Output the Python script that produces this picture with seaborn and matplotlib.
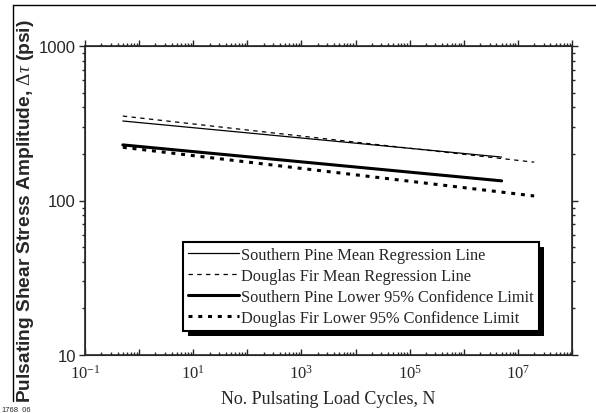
"""
Fatigue regression lines - shear stress amplitude vs load cycles (log-log)
"""

import numpy as np
import pandas as pd
import matplotlib
matplotlib.use('Agg')
import matplotlib.pyplot as plt
import matplotlib.ticker as mticker
from matplotlib.patches import Rectangle
from matplotlib.transforms import IdentityTransform
from matplotlib.lines import Line2D
import seaborn as sns

# Data (end points of straight log-log lines)
cycles_sp = [0.5, 5e6]
cycles_df = [0.5, 2e7]
sp_mean = [327, 191]
df_mean = [352, 177]
sp_lower = [229, 134]
df_lower = [221, 107]

series_labels = ['Southern Pine Mean Regression Line',
                 'Douglas Fir Mean Regression Line',
                 'Southern Pine Lower 95% Confidence Limit',
                 'Douglas Fir Lower 95% Confidence Limit']

x_ticks = [10.0 ** k for k in range(-1, 9)]
x_tick_labels = ['$10^{-1}$', '', '$10^{1}$', '', '$10^{3}$', '', '$10^{5}$', '', '$10^{7}$', '']
y_ticks = [10, 100, 1000]
y_tick_labels = ['10', '100', '1000']

# Style
sns.set_style('ticks')
plt.rcParams['font.family'] = ['Liberation Serif', 'DejaVu Serif']
plt.rcParams['mathtext.fontset'] = 'custom'
plt.rcParams['mathtext.rm'] = 'Liberation Serif'
plt.rcParams['mathtext.it'] = 'Liberation Serif:italic'
plt.rcParams['mathtext.bf'] = 'Liberation Serif:bold'
sans = ['Liberation Sans', 'DejaVu Sans']

fig = plt.figure(figsize=(5.96, 4.14), dpi=100)
ax = fig.add_axes([85 / 596, 1 - 356 / 414, 487 / 596, 309 / 414])

# Lines
sns.lineplot(x=cycles_sp, y=sp_mean, ax=ax, color='black', lw=0.9,
             label=series_labels[0])
sns.lineplot(x=cycles_df, y=df_mean, ax=ax, color='black', lw=0.9,
             linestyle=(0, (3.5, 3.5)), label=series_labels[1])
sns.lineplot(x=cycles_sp, y=sp_lower, ax=ax, color='black', lw=2.2,
             label=series_labels[2])
sns.lineplot(x=cycles_df, y=df_lower, ax=ax, color='black', lw=2.2,
             linestyle=(0, (1.3, 1.9)), label=series_labels[3])

ax.set_xscale('log')
ax.set_yscale('log')
ax.set_xlim(0.1, 1e8)
ax.set_ylim(10, 1000)

ax.set_xticks(x_ticks, labels=x_tick_labels, fontsize=12)
ax.xaxis.set_minor_locator(mticker.LogLocator(base=10, subs=np.arange(2, 10), numticks=100))
ax.xaxis.set_minor_formatter(mticker.NullFormatter())
ax.set_yticks(y_ticks, labels=y_tick_labels, fontsize=12, fontfamily=sans)
ax.yaxis.set_minor_locator(mticker.LogLocator(base=10, subs=np.arange(2, 10), numticks=100))
ax.yaxis.set_minor_formatter(mticker.NullFormatter())

for s in ax.spines.values():
    s.set_linewidth(1.2)
    s.set_visible(True)

ax.tick_params(axis='y', which='both', direction='out', left=True, right=True,
               width=1, pad=2)
ax.tick_params(axis='x', which='both', direction='in', bottom=True, top=False,
               width=1, pad=6)
ax.tick_params(which='major', length=4.5)
ax.tick_params(which='minor', length=2.5)

# top axis with outward ticks
ax2 = ax.twiny()
ax2.set_xscale('log')
ax2.set_xlim(ax.get_xlim())
ax2.set_xticks(x_ticks, labels=[''] * len(x_ticks))
ax2.xaxis.set_minor_locator(mticker.LogLocator(base=10, subs=np.arange(2, 10), numticks=100))
ax2.xaxis.set_minor_formatter(mticker.NullFormatter())
ax2.tick_params(which='both', direction='out', width=1, labeltop=False)
ax2.tick_params(which='major', length=4.5)
ax2.tick_params(which='minor', length=2.5)
ax2.grid(False)

ax.set_xlabel('No. Pulsating Load Cycles, N', fontsize=13, labelpad=6)
ax.set_ylabel(r'Pulsating Shear Stress Amplitude, $\Delta\tau$ (psi)',
              fontsize=13.8, fontweight='bold', fontfamily=sans)
ax.yaxis.set_label_coords(-0.101, 0.469)

# Legend with hard black shadow
leg = ax.legend(loc='upper left', bbox_to_anchor=(183 / 596, 1 - 243 / 414),
                bbox_transform=fig.transFigure, borderaxespad=0,
                fontsize=11.8, frameon=True, fancybox=False, framealpha=1,
                edgecolor='black', handlelength=3.1, handletextpad=0.15,
                labelspacing=0.3, borderpad=0.3)
leg.get_frame().set_linewidth(1.5)
leg.set_zorder(6)

fig.canvas.draw()
bb = leg.get_window_extent()
ax.add_patch(Rectangle((bb.x0 + 5, bb.y0 - 5), bb.width, bb.height,
                       transform=IdentityTransform(), facecolor='black',
                       edgecolor='none', zorder=5.9, clip_on=False))

# Outer frame and file tag
fig.add_artist(Line2D([13 / 596, 13 / 596], [1 - 6 / 414, 1 - 402 / 414],
                      transform=fig.transFigure, color='black', lw=1))
fig.add_artist(Line2D([13 / 596, 1], [1 - 6 / 414, 1 - 6 / 414],
                      transform=fig.transFigure, color='black', lw=1))
fig.text(0.002, 0.002, '1768_06', fontsize=5.5, fontfamily=sans, ha='left', va='bottom')

plt.savefig('out.png', dpi=100)
plt.close()
